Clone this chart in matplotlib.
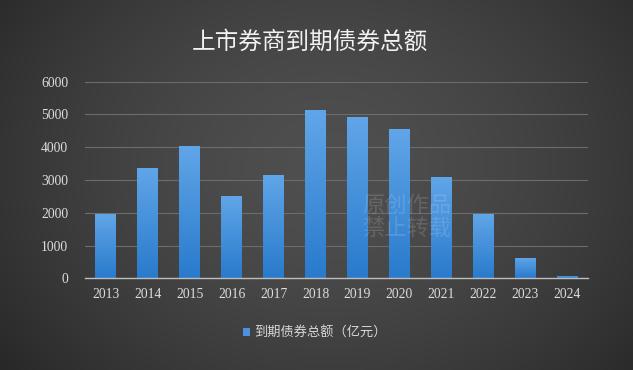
import numpy as np
import matplotlib
matplotlib.use("Agg")
import matplotlib.pyplot as plt
from matplotlib.patches import Patch

plt.rcParams['font.family'] = ['Noto Sans CJK SC', 'DejaVu Sans']

years = ["2013", "2014", "2015", "2016", "2017", "2018",
         "2019", "2020", "2021", "2022", "2023", "2024"]
amounts = [1960, 3370, 4030, 2520, 3150, 5130,
           4930, 4570, 3100, 1960, 630, 70]
y_ticks = [0, 1000, 2000, 3000, 4000, 5000, 6000]
title = "上市券商到期债券总额"
series_name = "到期债券总额（亿元）"

fig = plt.figure(figsize=(6.33, 3.70), dpi=100)

# dark radial backdrop
bg = fig.add_axes([0, 0, 1, 1], zorder=-10)
bg.set_axis_off()
gx, gy = np.meshgrid(np.linspace(0, 1, 400), np.linspace(0, 1, 240))
r = np.sqrt(((gx - 0.52) / 0.62) ** 2 + ((gy - 0.55) / 0.85) ** 2)
shade = np.clip(0.31 - 0.14 * r ** 1.6, 0.16, 0.315)
bg.imshow(np.dstack([shade, shade, shade]), extent=(0, 1, 0, 1),
          aspect='auto', origin='lower')
bg.set_xlim(0, 1)
bg.set_ylim(0, 1)

ax = fig.add_axes([0.1343, 0.2478, 0.7946, 0.5314])
ax.patch.set_alpha(0)
x = np.arange(len(years))
bars = ax.bar(x, amounts, width=0.5, color='none', edgecolor='none', zorder=3)

# vertical blue gradient inside each bar
grad = np.linspace(0, 1, 256).reshape(-1, 1)
top_c = np.array([0.38, 0.65, 0.91])
bot_c = np.array([0.16, 0.48, 0.80])
grad_img = bot_c + (top_c - bot_c) * grad[..., None]
grad_img = grad_img.reshape(256, 1, 3)
for b in bars:
    x0, w, h = b.get_x(), b.get_width(), b.get_height()
    im = ax.imshow(grad_img, extent=(x0, x0 + w, 0, h), origin='lower',
                   aspect='auto', zorder=3, interpolation='bilinear')
    im.set_clip_path(b)

ax.set_xlim(-0.5, len(years) - 0.5)
ax.set_ylim(0, 6000)
ax.set_yticks(y_ticks)
ax.set_xticks(x)
ax.set_xticklabels(years)
ax.grid(axis='y', color='#6c6c6c', linewidth=0.8, zorder=0)
for s in ['top', 'right', 'left']:
    ax.spines[s].set_visible(False)
ax.spines['bottom'].set_color('#bdbdbd')
ax.spines['bottom'].set_linewidth(1.0)
ax.spines['bottom'].set_zorder(4)
ax.tick_params(length=0, colors='#dcdcdc')
ax.tick_params(axis='y', pad=12)
ax.tick_params(axis='x', pad=7)
for lab in ax.get_xticklabels() + ax.get_yticklabels():
    lab.set_fontfamily('Liberation Serif')
    lab.set_fontsize(9.8)

fig.text(0.49, 0.885, title, ha='center', va='center', color='#f2f2f2',
         fontsize=17)

# faint watermark
fig.text(0.572, 0.414, "原创作品\n禁止转载", ha='left', va='center',
         color='#ffffff', alpha=0.14, fontsize=16, linespacing=1.0)

handle = Patch(facecolor='#4a93dc', edgecolor='none')
fig.legend([handle], [series_name], loc='center', bbox_to_anchor=(0.497, 0.1),
           frameon=False, handlelength=0.55, handleheight=0.55,
           handletextpad=0.3, prop={'size': 9.5}, labelcolor='#d8d8d8')

fig.savefig("out.png", dpi=100)
